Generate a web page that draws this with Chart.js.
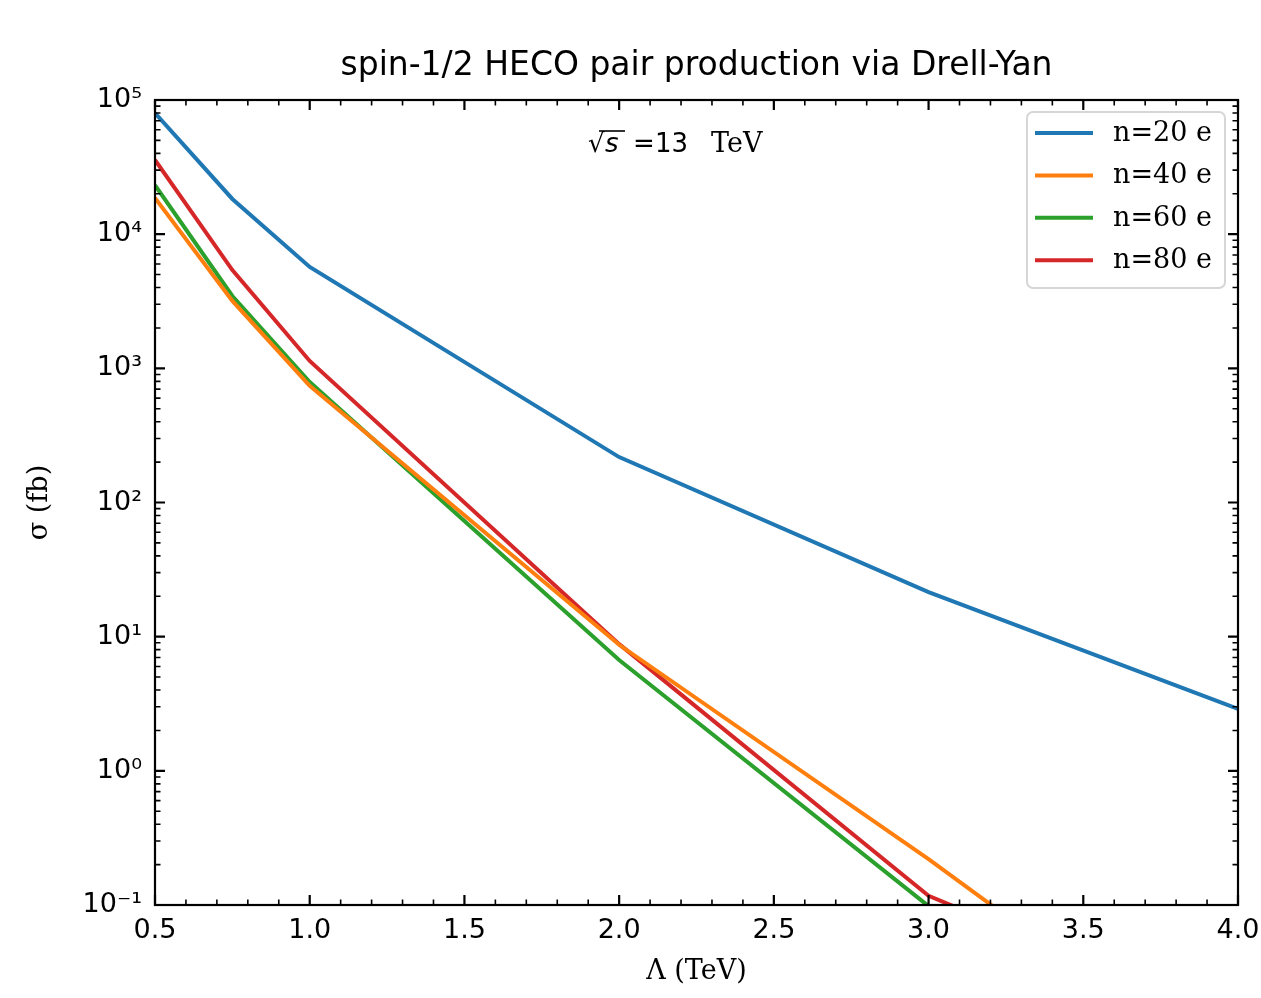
<!DOCTYPE html>
<html>
<head>
<meta charset="utf-8">
<script src="https://cdn.jsdelivr.net/npm/chart.js@4.4.1/dist/chart.umd.min.js"></script>
<style>
  html, body { margin: 0; padding: 0; background: #fff; }
  #wrap { width: 1261px; height: 998px; }
</style>
</head>
<body>
<div id="wrap"><canvas id="hecoChart"></canvas></div>
<script>
// cross sections (fb), per mass scale Lambda (TeV)
const lambdaTeV = [0.5, 0.75, 1.0, 2.0, 3.0, 4.0];
const sigmaN20 = [80000, 18300, 5700, 218, 21.5, 2.9];
const sigmaN40 = [18600, 3180, 740, 8.7, 0.22, 0.0045];
const sigmaN60 = [23200, 3460, 790, 6.7, 0.098, 0.0012];
const sigmaN80 = [35700, 5400, 1135, 8.8, 0.117, 0.013];
const seriesLabels = ["n=20 e", "n=40 e", "n=60 e", "n=80 e"];
const seriesColors = ["#1f77b4", "#ff7f0e", "#2ca02c", "#d62728"];
const xTicks = [0.5, 1.0, 1.5, 2.0, 2.5, 3.0, 3.5, 4.0];
const yTicks = [0.1, 1, 10, 100, 1000, 10000, 100000];
const chartTitle = "spin-1/2 HECO pair production via Drell-Yan";

const sup = { "-": "\u207B", "0": "\u2070", "1": "\u00B9", "2": "\u00B2", "3": "\u00B3",
  "4": "\u2074", "5": "\u2075", "6": "\u2076", "7": "\u2077", "8": "\u2078", "9": "\u2079" };
const powLabel = v => "10" + String(Math.round(Math.log10(v))).split("").map(c => sup[c]).join("");

const allSeries = [sigmaN20, sigmaN40, sigmaN60, sigmaN80];

// matplotlib style inward ticks on all four sides + full frame
const frameTicks = {
  id: "frameTicks",
  afterDraw(chart) {
    const { ctx, chartArea: a, scales: { x, y } } = chart;
    ctx.save();
    ctx.strokeStyle = "#000";
    const major = 10, minor = 5.5;
    ctx.lineWidth = 1.6;
    ctx.beginPath();
    for (let k = 5; k <= 40; k++) {
      if (k % 5 === 0) continue;
      const px = x.getPixelForValue(k / 10);
      ctx.moveTo(px, a.bottom); ctx.lineTo(px, a.bottom - minor);
      ctx.moveTo(px, a.top); ctx.lineTo(px, a.top + minor);
    }
    for (let d = -1; d < 5; d++) {
      for (let m = 2; m < 10; m++) {
        const py = y.getPixelForValue(m * Math.pow(10, d));
        ctx.moveTo(a.left, py); ctx.lineTo(a.left + minor, py);
        ctx.moveTo(a.right, py); ctx.lineTo(a.right - minor, py);
      }
    }
    ctx.stroke();
    ctx.lineWidth = 2.2;
    ctx.beginPath();
    xTicks.forEach(v => {
      const px = x.getPixelForValue(v);
      ctx.moveTo(px, a.bottom); ctx.lineTo(px, a.bottom - major);
      ctx.moveTo(px, a.top); ctx.lineTo(px, a.top + major);
    });
    yTicks.forEach(v => {
      const py = y.getPixelForValue(v);
      ctx.moveTo(a.left, py); ctx.lineTo(a.left + major, py);
      ctx.moveTo(a.right, py); ctx.lineTo(a.right - major, py);
    });
    ctx.stroke();
    ctx.strokeRect(a.left, a.top, a.right - a.left, a.bottom - a.top);

    // title, centred over the axes
    ctx.fillStyle = "#000";
    ctx.font = "33px 'DejaVu Sans'";
    ctx.textAlign = "center";
    ctx.textBaseline = "middle";
    ctx.fillText(chartTitle, (a.left + a.right) / 2, a.top - 34);

    // legend box, upper right
    const w = 198, h = 176;
    const lx = a.right - 13 - w, ly = a.top + 12;
    ctx.beginPath();
    ctx.roundRect(lx, ly, w, h, 6);
    ctx.fillStyle = "rgba(255,255,255,0.8)";
    ctx.fill();
    ctx.lineWidth = 2;
    ctx.strokeStyle = "rgba(204,204,204,0.8)";
    ctx.stroke();
    ctx.font = "27px 'DejaVu Serif'";
    ctx.textBaseline = "middle";
    ctx.textAlign = "left";
    chart.data.datasets.forEach((ds, i) => {
      const ry = ly + 21 + i * 42.4;
      ctx.strokeStyle = ds.borderColor;
      ctx.lineWidth = 4;
      ctx.beginPath();
      ctx.moveTo(lx + 8, ry); ctx.lineTo(lx + 66, ry);
      ctx.stroke();
      ctx.fillStyle = "#000";
      ctx.fillText(ds.label, lx + 86, ry + 1);
    });

    // sqrt(s) = 13 TeV annotation
    const bx = a.left + 433, by = a.top + 52;
    ctx.textBaseline = "alphabetic";
    ctx.fillStyle = "#000";
    ctx.font = "26px 'DejaVu Sans'";
    ctx.fillText("\u221A", bx, by);
    ctx.font = "italic 26px 'DejaVu Sans'";
    ctx.fillText("s", bx + 17, by);
    ctx.lineWidth = 1.6;
    ctx.strokeStyle = "#000";
    ctx.beginPath();
    ctx.moveTo(bx + 11, by - 21); ctx.lineTo(bx + 37, by - 21);
    ctx.stroke();
    ctx.font = "26px 'DejaVu Sans'";
    ctx.fillText("=", bx + 45, by);
    ctx.fillText("13", bx + 67, by);
    ctx.font = "27px 'DejaVu Serif'";
    ctx.fillText("TeV", bx + 123, by);
    ctx.restore();
  }
};

Chart.defaults.font.family = "'DejaVu Sans'";
Chart.defaults.color = "#000";

new Chart(document.getElementById("hecoChart").getContext("2d"), {
  type: "line",
  data: {
    datasets: allSeries.map((vals, i) => ({
      label: seriesLabels[i],
      data: lambdaTeV.map((l, j) => ({ x: l, y: vals[j] })),
      borderColor: seriesColors[i],
      backgroundColor: seriesColors[i],
      borderWidth: 4,
      pointRadius: 0,
      tension: 0,
      fill: false,
      clip: 0,
    })),
  },
  options: {
    responsive: true,
    maintainAspectRatio: false,
    animation: false,
    layout: { padding: { left: 0, right: 23, top: 100, bottom: 0 } },
    plugins: {
      legend: { display: false },
      tooltip: { enabled: false },
      title: { display: false },
    },
    scales: {
      x: {
        type: "linear",
        min: 0.5,
        max: 4.0,
        grid: { display: false, drawTicks: false },
        border: { display: false },
        afterBuildTicks: s => { s.ticks = xTicks.map(v => ({ value: v })); },
        afterFit: s => { s.height = 93; s.paddingLeft = 0; s.paddingRight = 0; },
        ticks: {
          font: { size: 27 },
          padding: 10,
          maxRotation: 0,
          autoSkip: false,
          callback: v => Number(v).toFixed(1),
        },
        title: {
          display: true,
          text: "\u039B (TeV)",
          font: { size: 27, family: "'DejaVu Serif'" },
          padding: { top: 0, bottom: 10 },
        },
      },
      y: {
        type: "logarithmic",
        min: 0.1,
        max: 100000,
        grid: { display: false, drawTicks: false },
        border: { display: false },
        afterBuildTicks: s => { s.ticks = yTicks.map(v => ({ value: v })); },
        afterFit: s => { s.width = 155; s.paddingTop = 0; s.paddingBottom = 0; },
        ticks: {
          font: { size: 27 },
          padding: 13,
          autoSkip: false,
          callback: v => powLabel(v),
        },
        title: {
          display: true,
          text: "\u03C3 (fb)",
          font: { size: 27, family: "'DejaVu Serif'" },
          padding: { top: 24, bottom: 0 },
        },
      },
    },
  },
  plugins: [frameTicks],
});
</script>
</body>
</html>
